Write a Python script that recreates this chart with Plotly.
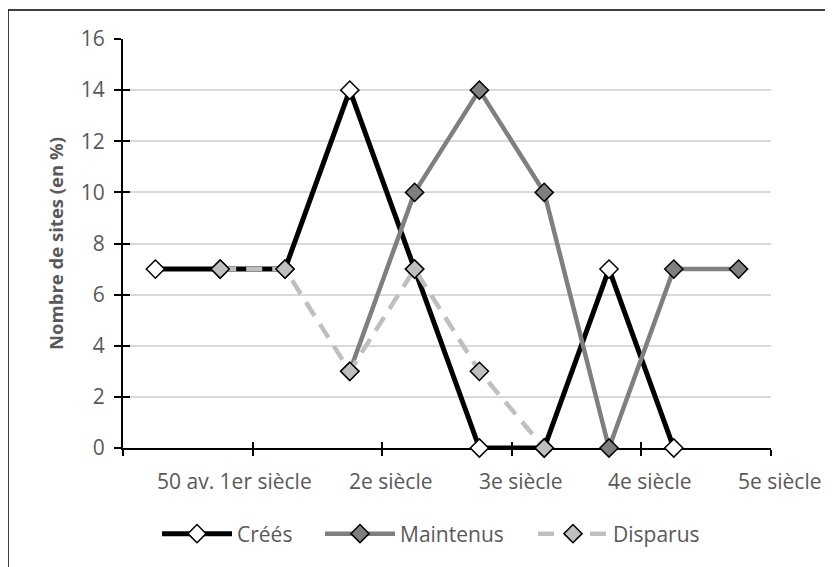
import plotly.graph_objects as go

# ---------------- data ----------------
periods = list(range(1, 11))  # 10 category slots along the time axis
crees = [7, 7, 7, 14, 7, 0, 0, 7, 0, None]
maintenus = [None, None, None, 3, 10, 14, 10, 0, 7, 7]
disparus = [None, 7, 7, 3, 7, 3, 0, None, None, None]
tick_labels = ["50 av. 1er siècle", "2e siècle", "3e siècle", "4e siècle", "5e siècle"]
y_ticks = [0, 2, 4, 6, 8, 10, 12, 14, 16]

# ---------------- layout geometry / style ----------------
OFF = 8  # page body margin
W, H = 833 - OFF, 567 - OFF
L, T = 123 - OFF, 39 - OFF
R = W - (771 - OFF)
B = H - (448 - OFF)
PW, PH = W - L - R, H - T - B
X_RANGE = [0.5, len(periods) + 0.5]


def px_to_paper_x(px):
    return (px - OFF - L) / PW


def px_to_paper_y(py):
    return (H - B - (py - OFF)) / PH


major_ticks = [0.5 + 2 * i for i in range(6)]
label_centers_px = (234, 390.5, 521, 650, 779.5)

FONT = "Open Sans"
TXT = "#595959"
TICK_FONT = dict(family=FONT, size=21, color=TXT)

fig = go.Figure()
series = [
    ("Créés", crees, "#000000", "white", 5, "solid", "legend", 162),
    ("Maintenus", maintenus, "#7f7f7f", "#7f7f7f", 4.5, "solid", "legend2", 325),
    ("Disparus", disparus, "#bfbfbf", "#bfbfbf", 4.5, "16px,10px", "legend3", 538),
]
for name, vals, lc, mc, lw, dash, lg, _ in series:
    fig.add_trace(go.Scatter(
        x=periods, y=vals, name=name, mode="lines+markers",
        line=dict(color=lc, width=lw, dash=dash),
        marker=dict(symbol="diamond", size=14, color=mc,
                    line=dict(color="black", width=1.5)),
        cliponaxis=False, connectgaps=False, legend=lg,
    ))

# empty helper trace so the overlaid (inside-tick) axes get drawn
fig.add_trace(go.Scatter(x=[None], y=[None], xaxis="x2", yaxis="y2",
                         showlegend=False, hoverinfo="skip"))

common_x = dict(range=X_RANGE, showgrid=False, zeroline=False, fixedrange=True)
legends = {}
for _, _, _, _, _, _, lg, sx in series:
    legends[lg] = dict(orientation="h", x=px_to_paper_x(sx - 5), xanchor="left",
                       y=px_to_paper_y(534), yanchor="middle",
                       font=TICK_FONT, itemwidth=70, bgcolor="rgba(0,0,0,0)")

# category labels (placed as text under the axis, like the original's offset labels)
label_annotations = [
    dict(text=txt, x=px_to_paper_x(cx), xref="paper", y=px_to_paper_y(481),
         yref="paper", xanchor="center", yanchor="middle", showarrow=False,
         font=TICK_FONT)
    for txt, cx in zip(tick_labels, label_centers_px)
]

fig.update_layout(
    width=W, height=H,
    margin=dict(l=L, r=R, t=T, b=B, autoexpand=False),
    paper_bgcolor="white", plot_bgcolor="white",
    showlegend=True,
    xaxis=dict(**common_x, tickmode="array", tickvals=major_ticks,
               ticktext=[""] * len(major_ticks), ticks="outside", ticklen=6,
               tickwidth=1.5, tickcolor="black", showline=True,
               linecolor="black", linewidth=1.5, layer="below traces"),
    xaxis2=dict(**common_x, overlaying="x", anchor="y2", side="bottom",
                tickmode="array", tickvals=major_ticks, ticks="inside",
                ticklen=6, tickwidth=1.5, tickcolor="black",
                showticklabels=False, showline=False, layer="below traces"),
    yaxis=dict(range=[0, 16], tickmode="array", tickvals=y_ticks,
               ticks="outside", ticklen=7, tickwidth=1.5, tickcolor="black",
               showline=True, linecolor="black", linewidth=2,
               showgrid=True, gridcolor="#d9d9d9", gridwidth=1.5,
               zeroline=False, tickfont=TICK_FONT, ticklabelstandoff=5,
               layer="below traces", fixedrange=True,
               title=dict(text="<b>Nombre de sites (en %)</b>",
                          font=dict(family=FONT, size=18.5, color=TXT),
                          standoff=12)),
    yaxis2=dict(range=[0, 16], overlaying="y", anchor="x2", side="left",
                tickmode="array", tickvals=y_ticks, ticks="inside",
                ticklen=7, tickwidth=1.5, tickcolor="black",
                showticklabels=False, showline=False, showgrid=False,
                zeroline=False, layer="below traces", fixedrange=True),
    annotations=label_annotations,
    shapes=[dict(type="rect", xref="paper", yref="paper",
                 x0=px_to_paper_x(8), x1=px_to_paper_x(W + 40),
                 y0=px_to_paper_y(H + 40), y1=px_to_paper_y(10),
                 line=dict(color="black", width=1.5), layer="below")],
    **legends,
)

fig.write_html("out.html")
